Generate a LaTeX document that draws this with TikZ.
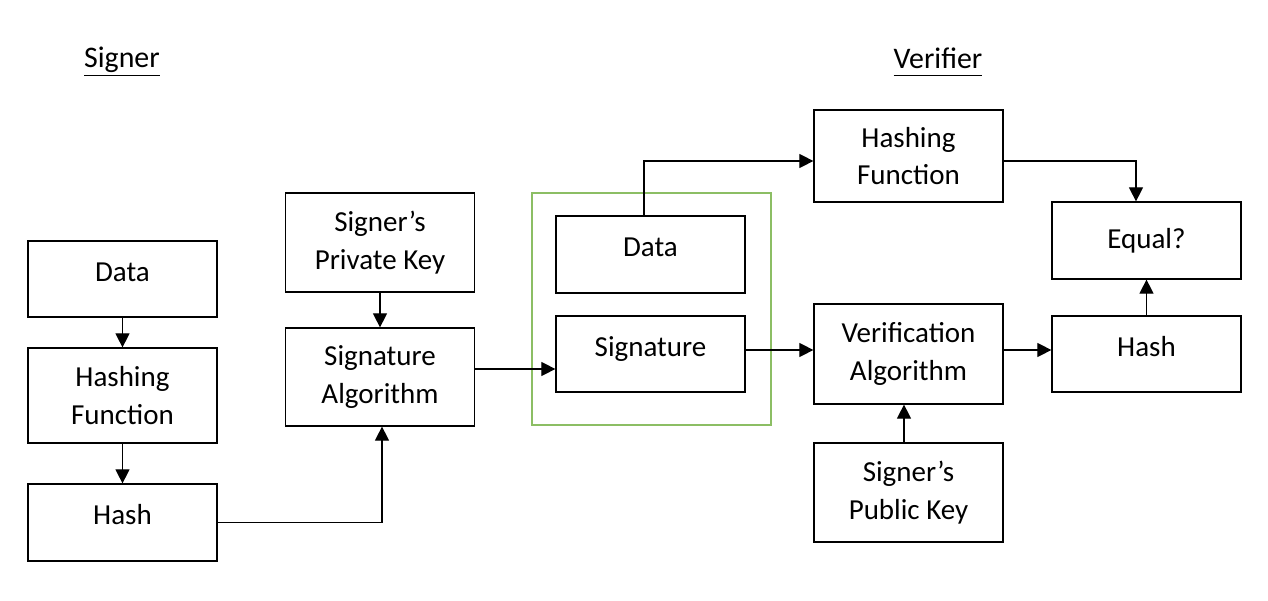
\documentclass[tikz,border=0pt]{standalone}
\usepackage{fontspec}
\setmainfont{Carlito}
\usetikzlibrary{arrows.meta}
\definecolor{pkggreen}{RGB}{140,190,100}
\tikzset{
  box/.style={draw, line width=0.7pt, minimum width=3.78cm, align=center, inner sep=2pt},
  up/.style={text height=12pt, text depth=9.5pt},
  arr/.style={-{Triangle[length=8pt,width=8pt]}, line width=0.7pt},
  pkg/.style={draw=pkggreen, line width=1pt, minimum width=4.78cm, minimum height=4.64cm},
  heading/.style={font=\fontsize{17}{21}\selectfont}
}
\begin{document}
\begin{tikzpicture}[font=\fontsize{16.5}{21.5}\selectfont]
    \useasboundingbox (0,0) rectangle (25.36,12);
    \node[heading] (signer) at (2.44,10.76) {\underline{\vphantom{g}Signer}};
    \node[heading] (verifier) at (18.76,10.76) {\underline{\vphantom{g}Verifier}};
    \node[pkg] (package) at (13.03,5.82) {};
    \node[box, up, minimum height=1.52cm] (dataS) at (2.45,6.42) {Data};
    \node[box, minimum height=1.9cm] (hashfnS) at (2.45,4.09) {Hashing\\Function};
    \node[box, up, minimum height=1.54cm] (hashS) at (2.45,1.55) {Hash};
    \node[box, minimum height=1.98cm] (privkey) at (7.6,7.15) {Signer’s\\Private Key};
    \node[box, minimum height=1.96cm] (sigalg) at (7.6,4.46) {Signature\\Algorithm};
    \node[box, up, minimum height=1.54cm] (dataV) at (13.01,6.91) {Data};
    \node[box, up, minimum height=1.52cm] (sig) at (13.01,4.92) {Signature};
    \node[box, minimum height=1.84cm] (hashfnV) at (18.17,8.88) {Hashing\\Function};
    \node[box, minimum height=2cm] (verif) at (18.17,4.92) {Verification\\Algorithm};
    \node[box, minimum height=1.98cm] (pubkey) at (18.17,2.15) {Signer’s\\Public Key};
    \node[box, minimum height=1.54cm] (equal) at (22.93,7.19) {Equal?};
    \node[box, up, minimum height=1.52cm] (hashV) at (22.93,4.92) {Hash};
    \draw[arr] (dataS) -- (hashfnS);
    \draw[arr] (hashfnS) -- (hashS);
    \draw[arr] (hashS.east) -| ([xshift=.04cm]sigalg.south);
    \draw[arr] (privkey) -- (sigalg);
    \draw[arr] ([yshift=.16cm]sigalg.east) -- ([yshift=.16cm]sigalg.east -| sig.west);
    \draw[arr] ([xshift=-.13cm]dataV.north) |- ([yshift=-.1cm]hashfnV.west);
    \draw[arr] ([yshift=.08cm]sig.east) -- ([yshift=.08cm]sig.east -| verif.west);
    \draw[arr] ([yshift=-.1cm]hashfnV.east) -| ([xshift=-.21cm]equal.north);
    \draw[arr] ([yshift=.08cm]verif.east) -- ([yshift=.08cm]verif.east -| hashV.west);
    \draw[arr] (hashV) -- (equal);
    \draw[arr] ([xshift=-.09cm]pubkey.north) -- ([xshift=-.09cm]verif.south);
  \end{tikzpicture}
\end{document}
